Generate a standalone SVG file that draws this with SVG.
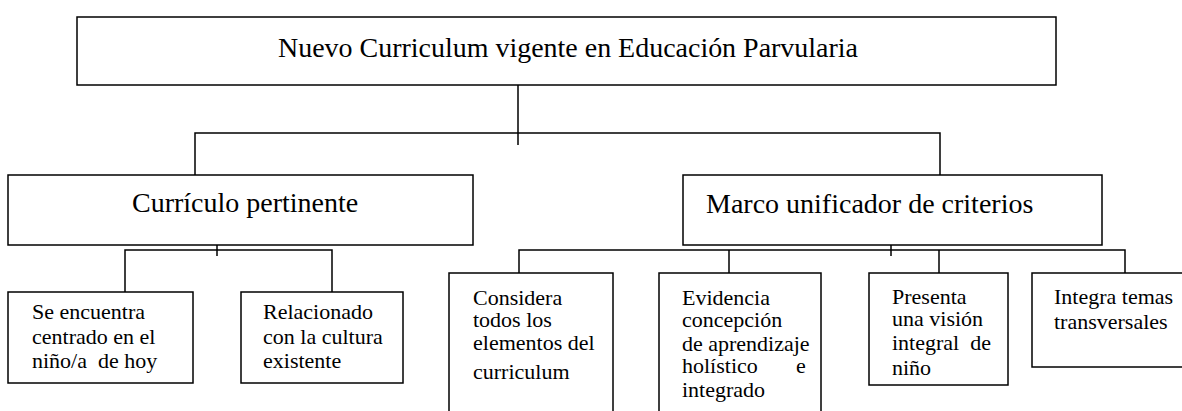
<svg xmlns="http://www.w3.org/2000/svg" width="1182" height="411" viewBox="0 0 1182 411">
<style>
.box{fill:#fff;stroke:#000;stroke-width:1.5}
.ln{fill:none;stroke:#000;stroke-width:1.5}
text{font-family:'Liberation Serif','Times New Roman',serif;fill:#000}
.big{font-size:28px}
.sm{font-size:22px}
</style>
<rect width="1182" height="411" fill="#fff"/>
<g id="connectors">
<path class="ln" d="M518,75 V145 M195,175 V133 H940 V175"/>
<path class="ln" d="M217,233 V256 M125,297 V250 H332 V297"/>
<path class="ln" d="M891,233 V256 M519,273 V250 H1125 V273 M729,250 V273 M939,250 V273"/>
</g>
<g id="root">
<rect class="box" x="77" y="17" width="979" height="68"/>
<text class="big" x="278" y="57" textLength="580" lengthAdjust="spacingAndGlyphs">Nuevo Curriculum vigente en Educación Parvularia</text>
</g>
<g id="curriculo">
<rect class="box" x="8" y="175" width="465" height="70"/>
<text class="big" x="132" y="212">Currículo pertinente</text>
</g>
<g id="marco">
<rect class="box" x="683" y="175" width="419" height="70"/>
<text class="big" x="706" y="213">Marco unificador de criterios</text>
</g>
<g id="centrado">
<rect class="box" x="8" y="292" width="185" height="91"/>
<text class="sm" x="32" y="319">Se encuentra</text>
<text class="sm" x="32" y="344">centrado en el</text>
<text class="sm" x="32" y="368" xml:space="preserve">niño/a  de hoy</text>
</g>
<g id="relacionado">
<rect class="box" x="241" y="292" width="162" height="91"/>
<text class="sm" x="263" y="319">Relacionado</text>
<text class="sm" x="263" y="344">con la cultura</text>
<text class="sm" x="263" y="368">existente</text>
</g>
<g id="considera">
<rect class="box" x="449" y="273" width="164" height="150"/>
<text class="sm" x="473" y="305">Considera</text>
<text class="sm" x="473" y="327">todos los</text>
<text class="sm" x="473" y="350">elementos del</text>
<text class="sm" x="473" y="379">curriculum</text>
</g>
<g id="evidencia">
<rect class="box" x="659" y="273" width="162" height="150"/>
<text class="sm" x="682" y="305">Evidencia</text>
<text class="sm" x="682" y="327">concepción</text>
<text class="sm" x="682" y="351">de aprendizaje</text>
<text class="sm" x="682" y="373">holístico</text>
<text class="sm" x="796" y="373">e</text>
<text class="sm" x="682" y="397">integrado</text>
</g>
<g id="presenta">
<rect class="box" x="869" y="273" width="139" height="112"/>
<text class="sm" x="892" y="304">Presenta</text>
<text class="sm" x="892" y="326">una visión</text>
<text class="sm" x="892" y="350" xml:space="preserve">integral  de</text>
<text class="sm" x="892" y="375">niño</text>
</g>
<g id="integra">
<rect class="box" x="1032" y="273" width="160" height="94"/>
<text class="sm" x="1054" y="304">Integra temas</text>
<text class="sm" x="1054" y="329">transversales</text>
</g>
</svg>
